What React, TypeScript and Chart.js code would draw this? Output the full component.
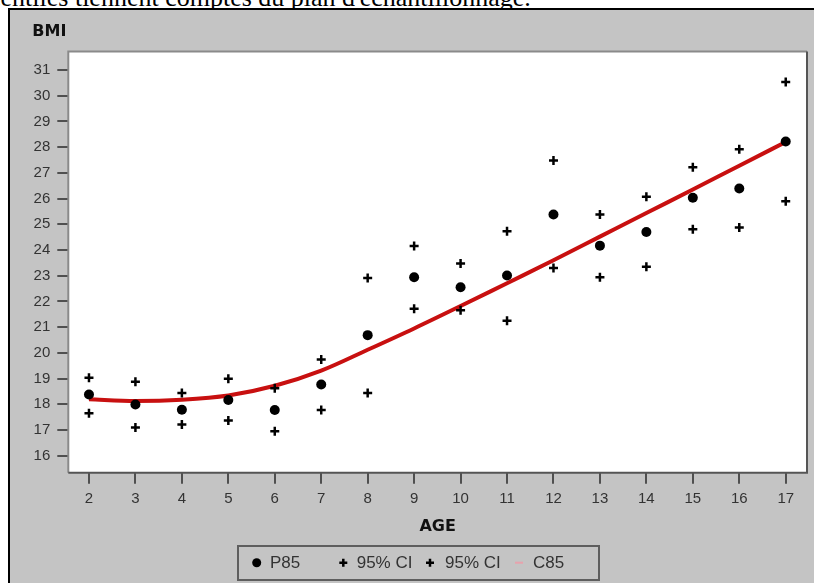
import React, { useEffect, useRef } from 'react';
import { Chart, registerables } from 'chart.js';

Chart.register(...registerables);

// ---- data ----
const ages = [2, 3, 4, 5, 6, 7, 8, 9, 10, 11, 12, 13, 14, 15, 16, 17];
const p85 = [18.38, 17.99, 17.79, 18.17, 17.78, 18.77, 20.69, 22.94, 22.55, 23.01, 25.38, 24.17, 24.7, 26.03, 26.39, 28.22];
const ciUpper = [19.03, 18.88, 18.44, 18.99, 18.62, 19.74, 22.91, 24.16, 23.48, 24.73, 27.48, 25.38, 26.07, 27.22, 27.92, 30.53];
const ciLower = [17.65, 17.1, 17.21, 17.37, 16.95, 17.78, 18.44, 21.72, 21.66, 21.25, 23.3, 22.94, 23.35, 24.81, 24.88, 25.9];
const c85 = [18.2, 18.13, 18.18, 18.34, 18.72, 19.31, 20.12, 20.95, 21.82, 22.71, 23.6, 24.52, 25.44, 26.35, 27.28, 28.2];
const seriesLabels = ['P85', '95% CI', '95% CI', 'C85'];
const xTitle = 'AGE';
const yTitle = 'BMI';
const headerText = "centiles tiennent comptes du plan d'échantillonnage.";

const pts = (ys: number[]) => ages.map((a, i) => ({ x: a, y: ys[i] }));

const TITLE_FONT = 'DejaVu Sans';
const FONT = 'Liberation Sans';

export default function App() {
  const ref = useRef<HTMLCanvasElement>(null);

  useEffect(() => {
    const plotFrame = {
      id: 'plotFrame',
      beforeDraw(chart: any) {
        const { ctx, chartArea: a } = chart;
        ctx.save();
        ctx.fillStyle = '#ffffff';
        ctx.fillRect(a.left, a.top, a.right - a.left, a.bottom - a.top);
        ctx.restore();
      },
      beforeDatasetsDraw(chart: any) {
        const { ctx, chartArea: a } = chart;
        ctx.save();
        ctx.lineWidth = 2;
        ctx.strokeStyle = '#8a8a8a';
        ctx.beginPath();
        ctx.moveTo(a.left, a.bottom);
        ctx.lineTo(a.left, a.top);
        ctx.lineTo(a.right, a.top);
        ctx.stroke();
        ctx.strokeStyle = '#555555';
        ctx.beginPath();
        ctx.moveTo(a.right, a.top);
        ctx.lineTo(a.right, a.bottom);
        ctx.lineTo(a.left, a.bottom);
        ctx.stroke();
        ctx.restore();
      },
    };

    const boxLegend = {
      id: 'boxLegend',
      afterDraw(chart: any) {
        const { ctx } = chart;
        const cy = 552.7;
        const items = [
          [246.7, 260],
          [333.3, 346.7],
          [420, 435],
          [509, 523],
        ];
        ctx.save();
        ctx.lineWidth = 2;
        ctx.strokeStyle = '#5e5e5e';
        ctx.strokeRect(228, 536, 361, 34);
        ctx.font = `17px "${FONT}"`;
        ctx.textAlign = 'left';
        ctx.textBaseline = 'middle';
        chart.data.datasets.forEach((ds: any, i: number) => {
          const [mx, tx] = items[i];
          if (ds.pointStyle === 'circle' && !ds.showLine) {
            ctx.fillStyle = '#000';
            ctx.beginPath();
            ctx.arc(mx, cy, 4.5, 0, Math.PI * 2);
            ctx.fill();
          } else if (ds.pointStyle === 'cross') {
            ctx.strokeStyle = '#000';
            ctx.lineWidth = 2.5;
            ctx.beginPath();
            ctx.moveTo(mx - 4, cy);
            ctx.lineTo(mx + 4, cy);
            ctx.moveTo(mx, cy - 4);
            ctx.lineTo(mx, cy + 4);
            ctx.stroke();
          } else {
            ctx.strokeStyle = '#e8a2ad';
            ctx.lineWidth = 2;
            ctx.beginPath();
            ctx.moveTo(mx - 4, cy);
            ctx.lineTo(mx + 4, cy);
            ctx.stroke();
          }
          ctx.fillStyle = '#333';
          ctx.fillText(ds.label, tx, cy + 1);
        });
        ctx.restore();
      },
    };

    const chart = new Chart(ref.current as HTMLCanvasElement, {
      type: 'scatter',
      data: {
        datasets: [
          {
            label: seriesLabels[0],
            data: pts(p85),
            pointStyle: 'circle',
            pointRadius: 5,
            backgroundColor: '#000',
            borderColor: '#000',
            borderWidth: 0,
            showLine: false,
          },
          {
            label: seriesLabels[1],
            data: pts(ciUpper),
            pointStyle: 'cross',
            pointRadius: 4.5,
            borderColor: '#000',
            backgroundColor: '#000',
            borderWidth: 2.5,
            showLine: false,
          },
          {
            label: seriesLabels[2],
            data: pts(ciLower),
            pointStyle: 'cross',
            pointRadius: 4.5,
            borderColor: '#000',
            backgroundColor: '#000',
            borderWidth: 2.5,
            showLine: false,
          },
          {
            label: seriesLabels[3],
            data: pts(c85),
            showLine: true,
            pointRadius: 0,
            borderColor: '#c81010',
            backgroundColor: '#c81010',
            borderWidth: 4,
            cubicInterpolationMode: 'monotone',
            fill: false,
          },
        ] as any,
      },
      options: {
        responsive: false,
        maintainAspectRatio: false,
        animation: false,
        events: [],
        layout: { padding: { left: 22.3, right: 6.7, top: 0, bottom: 0 } },
        plugins: {
          legend: { display: false },
          tooltip: { enabled: false },
          title: {
            display: true,
            text: yTitle,
            align: 'start',
            color: '#111',
            font: { family: TITLE_FONT, size: 16, weight: 'bold' },
            padding: { top: 12.1, bottom: 10.2 },
          },
        },
        scales: {
          x: {
            type: 'linear',
            min: 1.555,
            max: 17.458,
            afterFit: (s: any) => {
              s.height = 110.3;
            },
            border: { display: false },
            grid: {
              drawOnChartArea: false,
              drawTicks: true,
              tickLength: 11,
              lineWidth: 2,
              tickWidth: 2,
              tickColor: '#505050',
              color: '#505050',
            },
            ticks: {
              stepSize: 1,
              includeBounds: false,
              autoSkip: false,
              maxRotation: 0,
              padding: 6,
              color: '#333',
              font: { family: FONT, size: 15 },
            },
            title: {
              display: true,
              text: xTitle,
              color: '#111',
              font: { family: TITLE_FONT, size: 16, weight: 'bold' },
              padding: { top: 0, bottom: 46.4 },
            },
          },
          y: {
            type: 'linear',
            min: 15.34,
            max: 31.72,
            afterFit: (s: any) => {
              s.width = 36;
            },
            border: { display: false },
            grid: {
              drawOnChartArea: false,
              drawTicks: true,
              tickLength: 11,
              lineWidth: 2,
              tickWidth: 2,
              tickColor: '#505050',
              color: '#505050',
            },
            ticks: {
              stepSize: 1,
              includeBounds: false,
              autoSkip: false,
              padding: 7,
              color: '#333',
              font: { family: FONT, size: 15 },
            },
          },
        },
      } as any,
      plugins: [plotFrame, boxLegend],
    });
    return () => chart.destroy();
  }, []);

  return (
    <div style={{ position: 'fixed', left: 0, top: 0, right: 0, bottom: 0, overflow: 'hidden', background: '#fff' }}>
      <div
        style={{
          position: 'absolute',
          left: -11,
          top: -17,
          fontFamily: '"Liberation Serif", serif',
          fontSize: 26,
          lineHeight: '30px',
          whiteSpace: 'nowrap',
          color: '#000',
        }}
      >
        {headerText}
      </div>
      <div
        style={{
          position: 'absolute',
          left: 8,
          top: 8,
          right: 0,
          bottom: 0,
          borderTop: '2px solid #000',
          borderLeft: '2px solid #000',
          background: '#c4c4c4',
        }}
      >
        <canvas ref={ref} width={804} height={573} style={{ position: 'absolute', left: 0, top: 0, display: 'block' }} />
      </div>
    </div>
  );
}
